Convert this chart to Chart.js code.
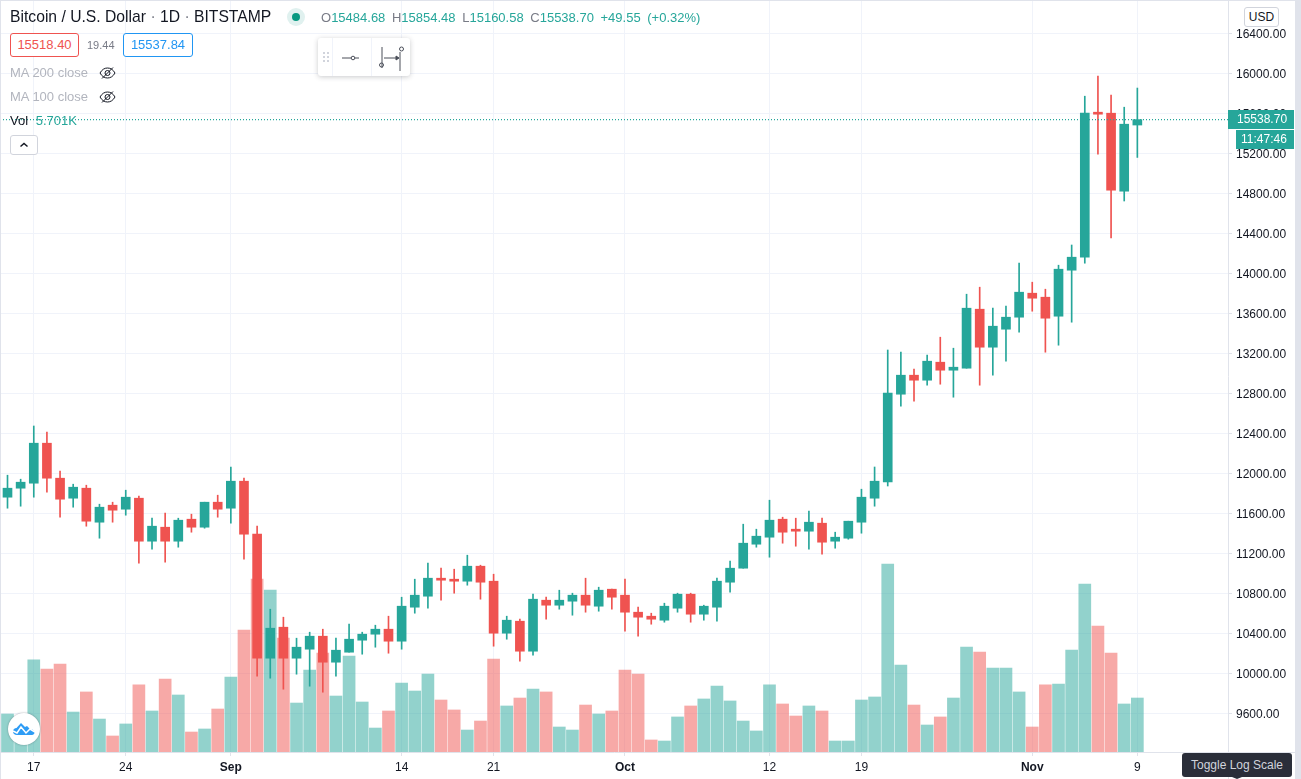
<!DOCTYPE html>
<html>
<head>
<meta charset="utf-8">
<title>Bitcoin / U.S. Dollar</title>
<script src="https://cdn.jsdelivr.net/npm/chart.js@4"></script>
<style>
  html, body { margin: 0; padding: 0; background: #fff; overflow: hidden; }
  body { width: 1301px; height: 779px; position: relative; font-family: "Liberation Sans", Arial, sans-serif; color: #131722; }
  #wrap { position: absolute; left: 0; top: 0; width: 1295px; height: 779px; }
  .abs { position: absolute; white-space: nowrap; }
  .box { position: absolute; box-sizing: border-box; background: #fff; font-size: 13px; text-align: center; border-radius: 3px; border: 1px solid; height: 24px; line-height: 22px; }
  .green { color: #26a69a; }
  .grey { color: #787b86; }
  .ma { color: #b2b5be; font-size: 13px; }
</style>
</head>
<body>
<div id="wrap"><canvas id="chart"></canvas></div>

<!-- frame of the widget -->
<div class="abs" style="left:0;top:0;width:1px;height:779px;background:#e0e3eb"></div>
<div class="abs" style="left:0;top:0;width:1301px;height:1px;background:#e0e3eb"></div>
<div class="abs" style="left:1295px;top:0;width:6px;height:779px;background:#e0e3eb"></div>
<div class="abs" style="left:1228px;top:752px;width:1px;height:27px;background:#e0e3eb"></div>
<div class="abs" style="left:1228px;top:752px;width:67px;height:1px;background:#e0e3eb"></div>

<!-- legend -->
<div class="abs" style="left:10px;top:7px;font-size:15.7px;line-height:20px">Bitcoin / U.S. Dollar <span class="grey">·</span> 1D <span class="grey">·</span> BITSTAMP</div>
<div class="abs" style="left:287px;top:8px;width:18px;height:18px;border-radius:50%;background:#e0f1ef"></div>
<div class="abs" style="left:292px;top:13px;width:8px;height:8px;border-radius:50%;background:#089981"></div>
<div class="abs green" style="left:321px;top:9px;font-size:13px;line-height:18px;word-spacing:3px"><span class="grey">O</span>15484.68 <span class="grey">H</span>15854.48 <span class="grey">L</span>15160.58 <span class="grey">C</span>15538.70 +49.55 (+0.32%)</div>

<div class="box" style="left:10px;top:33px;width:69px;color:#ef5350;border-color:#ef5350">15518.40</div>
<div class="abs grey" style="left:87px;top:37px;font-size:11px;line-height:16px">19.44</div>
<div class="box" style="left:123px;top:33px;width:70px;color:#2196f3;border-color:#2196f3">15537.84</div>

<div class="abs ma" style="left:10px;top:64px;line-height:18px">MA 200 close</div>
<svg class="abs" style="left:99px;top:66px" width="17" height="14" viewBox="0 0 17 14" fill="none" stroke="#131722" stroke-width="1"><path d="M1 7c2-3.500 4.500-5 7.500-5s5.500 1.500 7.500 5c-2 3.500-4.500 5-7.500 5s-5.500-1.500-7.500-5z"/><circle cx="8.500" cy="7" r="2.500"/><path d="M3 12.500L14 1.500"/></svg>
<div class="abs ma" style="left:10px;top:88px;line-height:18px">MA 100 close</div>
<svg class="abs" style="left:99px;top:90px" width="17" height="14" viewBox="0 0 17 14" fill="none" stroke="#131722" stroke-width="1"><path d="M1 7c2-3.500 4.500-5 7.500-5s5.500 1.500 7.500 5c-2 3.500-4.500 5-7.500 5s-5.500-1.500-7.500-5z"/><circle cx="8.500" cy="7" r="2.500"/><path d="M3 12.500L14 1.500"/></svg>
<div class="abs" style="left:10px;top:112px;font-size:13px;line-height:18px">Vol <span class="green" style="margin-left:4px">5.701K</span></div>
<div class="abs" style="left:10px;top:135px;width:28px;height:20px;box-sizing:border-box;border:1px solid #d1d4dc;border-radius:3px;background:#fff">
  <svg style="position:absolute;left:8px;top:5px" width="10" height="8" viewBox="0 0 10 8" fill="none" stroke="#131722" stroke-width="1.500"><path d="M1.500 5.500L5 2.500l3.500 3"/></svg>
</div>

<!-- floating drawing toolbar -->
<div class="abs" style="left:318px;top:38px;width:92px;height:38px;background:#fff;border-radius:3px;box-shadow:0 1px 5px rgba(42,46,57,.25)"></div>
<svg class="abs" style="left:318px;top:38px" width="92" height="38" viewBox="0 0 92 38" fill="none" stroke="#4a4e59">
  <g fill="#d1d4dc" stroke="none"><rect x="5" y="14" width="2" height="2"/><rect x="9" y="14" width="2" height="2"/><rect x="5" y="18" width="2" height="2"/><rect x="9" y="18" width="2" height="2"/><rect x="5" y="22" width="2" height="2"/><rect x="9" y="22" width="2" height="2"/></g>
  <path d="M14.500 0v38M53.500 0v38" stroke="#f0f3fa"/>
  <path d="M24 20h9M41 20h-4"/><circle cx="35" cy="20" r="1.800"/>
  <path d="M64 9v21M82 14v19M66 20h14"/><path d="M78 18l3 2-3 2z" fill="#4a4e59"/><circle cx="63.500" cy="27" r="2"/><circle cx="83.500" cy="11" r="2"/>
</svg>

<!-- price scale badges -->
<div class="abs" style="left:1244px;top:7px;width:35px;height:20px;box-sizing:border-box;border:1px solid #d1d4dc;border-radius:3px;background:#fff;font-size:12px;line-height:18px;text-align:center">USD</div>
<div class="abs" style="left:1228px;top:110px;width:66px;height:19px;background:#26a69a;color:#fff;font-size:12px;line-height:19px;box-sizing:border-box;padding-left:9px">15538.70</div>
<div class="abs" style="left:1236px;top:130px;width:58px;height:19px;background:#26a69a;color:#fff;font-size:12px;line-height:19px;box-sizing:border-box;padding-left:5px">11:47:46</div>

<!-- tradingview badge -->
<div class="abs" style="left:8px;top:713px;width:32px;height:32px;border-radius:50%;background:#fff;box-shadow:0 0 2px rgba(42,46,57,.45)"></div>
<svg class="abs" style="left:12px;top:720px" width="24" height="18" viewBox="0 0 24 18"><path d="M5 15c-2.500 0-4-1.500-4-3.500S2.500 8 4.500 8L9 3l4 4 2-1 3 3c2.500 0 4.500 1.500 4.500 3.500S21 15 18.500 15z" fill="#2e9cf5"/><path d="M1 11l4 2 4-6 5 6 4-4 5 3" fill="none" stroke="#fff" stroke-width="1.500"/></svg>

<!-- hover hint -->
<div class="abs" style="left:1182px;top:753px;width:110px;height:24px;background:#2a2e39;border-radius:3px;color:#d1d4dc;font-size:12px;line-height:24px;text-align:center">Toggle Log Scale</div>
<div class="abs" style="left:1232px;top:777px;width:0;height:0;border-left:5px solid transparent;border-right:5px solid transparent;border-top:2px solid #2a2e39"></div>

<script>
// daily candles, 15 Aug to 9 Nov
const opens = [11763,11853,11903,12303,11953,11753,11853,11513,11683,11643,11753,11323,11463,11323,11543,11463,11713,11653,11923,11393,10153,10463,10153,10243,10373,
  10113,10213,10333,10393,10443,10323,10663,10773,10953,10943,10923,11073,10923,10403,10523,10223,10733,10683,10723,10783,10673,10843,10783,10613,10573,
  10533,10653,10793,10593,10663,10913,11053,11293,11363,11543,11443,11423,11503,11323,11353,11513,11753,11915,12793,12983,12933,13113,13033,13053,13643,
  13263,13443,13563,13803,13763,13573,14033,14163,15613,15603,14823,15484.68];
const highs = [11983,11943,12475,12413,12023,11893,11883,11693,11713,11833,11773,11553,11603,11553,11593,11713,11783,12063,11953,11473,10643,10563,10353,10413,10443,
  10353,10493,10413,10483,10573,10763,10943,11103,11053,11043,11183,11083,10993,10573,10543,10793,10763,10833,10803,10953,10863,10843,10943,10663,10603,
  10703,10803,10803,10683,10953,11123,11493,11443,11733,11563,11553,11623,11553,11413,11523,11843,12065,13235,13213,13043,13183,13363,13253,13793,13863,
  13653,13673,14103,13913,13843,14083,14285,15773,15973,15783,15663,15854.48];
const lows = [11653,11673,11763,11813,11563,11663,11473,11353,11513,11583,11103,11243,11113,11263,11413,11453,11563,11503,11143,9973,9953,9843,9993,9873,9813,
  9973,10213,10193,10263,10203,10243,10603,10653,10733,10803,10883,10743,10273,10343,10123,10183,10543,10643,10583,10613,10623,10643,10423,10373,10493,
  10513,10613,10513,10533,10523,10813,11053,11263,11163,11303,11273,11243,11193,11253,11343,11403,11673,11875,12673,12723,12883,12893,12763,13053,12883,
  12983,13123,13413,13623,13213,13283,13513,14103,15193,14355,14725,15160.58];
const closes = [11853,11913,12303,11953,11743,11863,11523,11663,11633,11763,11323,11473,11323,11533,11463,11713,11643,11923,11393,10153,10453,10153,10263,10373,10113,
  10233,10343,10393,10443,10323,10673,10783,10953,10933,10923,11073,10913,10403,10533,10223,10743,10683,10733,10783,10683,10833,10763,10613,10563,10543,
  10673,10793,10593,10673,10923,11053,11303,11373,11533,11413,11423,11513,11313,11363,11523,11763,11923,12805,12983,12933,13123,13033,13063,13653,13263,
  13473,13563,13813,13753,13553,14043,14163,15603,15593,14833,15493,15538.70];
// volume in thousands
const volumes = [4.01,2.64,9.72,8.76,9.29,4.22,6.34,3.48,1.69,2.96,7.08,4.33,7.71,6.02,2.11,2.43,4.54,7.92,12.88,18.27,17.11,12.04,5.17,8.66,10.45,
  5.91,10.14,5.28,2.53,4.33,7.29,6.44,8.24,5.49,4.44,2.32,3.27,9.82,4.86,5.70,6.65,6.34,2.64,2.32,4.96,4.01,4.33,8.66,8.24,1.27,
  1.16,3.70,4.86,5.60,6.97,5.39,3.27,2.22,7.08,5.07,3.80,4.86,4.33,1.16,1.16,5.49,5.81,19.85,9.19,4.96,2.85,3.70,5.70,11.09,10.56,
  8.87,8.87,6.34,2.64,7.08,7.18,10.77,17.74,13.31,10.45,5.07,5.701];

const tickDays = [2, 9, 17, 30, 37, 47, 58, 65, 78, 86];
const tickLabels = ["17", "24", "Sep", "14", "21", "Oct", "12", "19", "Nov", "9"];
const monthLabels = ["Sep", "Oct", "Nov"];
const priceTicks = [9600,10000,10400,10800,11200,11600,12000,12400,12800,13200,13600,14000,14400,14800,15200,15600,16000,16400];
const lastPrice = 15538.70;

const UP = "#26a69a";
const DOWN = "#ef5350";
const FONT = '"Liberation Sans", Arial, sans-serif';

const xMin = -0.571;
const xMax = 92.9;

const isUp = (i) => closes[i] >= opens[i];
const candleColors = opens.map((_, i) => (isUp(i) ? UP : DOWN));
const volumeColors = opens.map((_, i) => (isUp(i) ? "rgba(38,166,154,0.5)" : "rgba(239,83,80,0.5)"));

new Chart(document.getElementById("chart"), {
  type: "bar",
  data: {
    datasets: [
      {
        type: "line",
        data: [{ x: xMin, y: lastPrice }, { x: xMax, y: lastPrice }],
        yAxisID: "y",
        borderColor: UP,
        borderWidth: 1.4,
        borderDash: [1, 2],
        pointRadius: 0,
        order: 0,
      },
      {
        data: opens.map((o, i) => ({ x: i, y: [o, closes[i]] })),
        yAxisID: "y",
        backgroundColor: candleColors,
        barThickness: 9,
        grouped: false,
        order: 1,
      },
      {
        data: lows.map((l, i) => ({ x: i, y: [l, highs[i]] })),
        yAxisID: "y",
        backgroundColor: candleColors,
        barThickness: 1,
        grouped: false,
        order: 2,
      },
      {
        data: volumes.map((v, i) => ({ x: i, y: v })),
        yAxisID: "vol",
        backgroundColor: volumeColors,
        barThickness: 12,
        grouped: false,
        order: 3,
      },
    ],
  },
  options: {
    responsive: true,
    maintainAspectRatio: false,
    animation: false,
    layout: { padding: 0 },
    plugins: { legend: { display: false }, tooltip: { enabled: false } },
    scales: {
      x: {
        type: "linear",
        offset: false,
        min: xMin,
        max: xMax,
        afterBuildTicks: (scale) => {
          scale.ticks = tickDays.map((value) => ({ value }));
        },
        afterFit: (scale) => {
          scale.height = 27;
          scale.paddingLeft = 0;
          scale.paddingRight = 0;
        },
        grid: { offset: false, color: "#f0f3fa", tickColor: "#e0e3eb", tickLength: 4 },
        border: { color: "#e0e3eb" },
        ticks: {
          autoSkip: false,
          maxRotation: 0,
          padding: 4,
          color: "#131722",
          callback: (value) => tickLabels[tickDays.indexOf(value)],
          font: (ctx) => ({
            family: FONT,
            size: 12,
            weight: monthLabels.includes(tickLabels[tickDays.indexOf(ctx.tick && ctx.tick.value)]) ? "bold" : "normal",
          }),
        },
      },
      y: {
        position: "right",
        min: 9215,
        max: 16735,
        afterBuildTicks: (scale) => {
          scale.ticks = priceTicks.map((value) => ({ value }));
        },
        afterFit: (scale) => {
          scale.width = 67;
          scale.paddingTop = 0;
          scale.paddingBottom = 0;
        },
        grid: { color: "#f0f3fa", tickColor: "#e0e3eb", tickLength: 4 },
        border: { color: "#e0e3eb" },
        ticks: {
          padding: 4,
          labelOffset: 1,
          color: "#131722",
          font: { family: FONT, size: 12 },
          callback: (value) => value.toFixed(2),
        },
      },
      vol: {
        display: false,
        min: 0,
        max: 79.41,
      },
    },
  },
});
</script>
</body>
</html>
